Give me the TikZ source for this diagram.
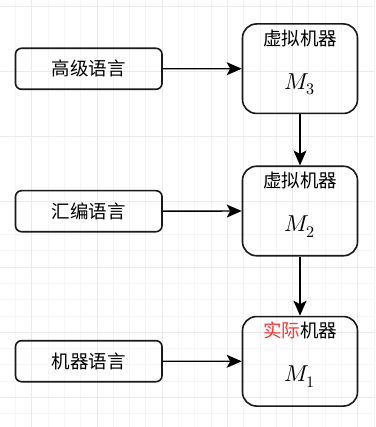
\documentclass[tikz,border=0pt]{standalone}
\usepackage{fontspec}
\usepackage{unicode-math}
\setmathfont{Latin Modern Math}
\newfontfamily\cjk{Noto Sans CJK SC}
\usetikzlibrary{arrows.meta}
\definecolor{gridminor}{HTML}{F5F5F5}
\definecolor{gridmajor}{HTML}{EAEAEA}
\definecolor{labelred}{HTML}{FF3333}
\begin{document}
\begin{tikzpicture}[x=1pt,y=-1pt,
  langbox/.style={draw=black!90, line width=1.6pt, rounded corners=6pt,
    minimum width=146.5pt, minimum height=41pt, inner sep=0pt,
    font=\cjk\fontsize{18.5}{20}\selectfont},
  machbox/.style={draw=black!90, line width=1.6pt, rounded corners=14pt,
    minimum width=115pt, minimum height=89.5pt, inner sep=0pt},
  title/.style={font=\cjk\fontsize{18.5}{20}\selectfont, inner sep=0pt},
  mlabel/.style={font=\fontsize{23}{26}\selectfont, inner sep=0pt, anchor=base},
  flow/.style={line width=1.4pt, -{Stealth[length=15pt,width=13pt,inset=3.5pt]}}
]
% page and background grid
\useasboundingbox (0,0) rectangle (375,427);
\fill[white] (0,0) rectangle (375,427);
\foreach \k in {-2,...,21} {
  \draw[gridminor, line width=0.7pt] ({31.7+16.3*\k},0) -- ({31.7+16.3*\k},427);
  \draw[gridminor, line width=0.7pt] (0,{267+16.3*\k}) -- (375,{267+16.3*\k});
}
\foreach \k in {0,...,5} {
  \draw[gridmajor, line width=0.8pt] ({31.7+65.2*\k},0) -- ({31.7+65.2*\k},427);
}
\foreach \k in {-4,...,2} {
  \draw[gridmajor, line width=0.8pt] (0,{267+65.2*\k}) -- (375,{267+65.2*\k});
}

% language levels
\node[langbox] (high) at (88.75,68.8) {高级语言};
\node[langbox] (asm)  at (88.75,211.2) {汇编语言};
\node[langbox] (mach) at (88.75,361.2) {机器语言};

% machine levels
\node[machbox] (m3) at (300,68.7) {};
\node[machbox] (m2) at (300,211) {};
\node[machbox] (m1) at (300,361.3) {};

\node[title] (m3t) at ([yshift=-15pt]m3.north) {虚拟机器};
\node[title] (m2t) at ([yshift=-15pt]m2.north) {虚拟机器};
\node[title] (m1t) at ([yshift=-15pt]m1.north) {{\color{labelred}实际}机器};

\node[mlabel] (m3m) at ([yshift=-66pt]m3.north) {$M_3$};
\node[mlabel] (m2m) at ([yshift=-66pt]m2.north) {$M_2$};
\node[mlabel] (m1m) at ([yshift=-66pt]m1.north) {$M_1$};

% connectors
\draw[flow] (high.east) -- (m3.west);
\draw[flow] (asm.east) -- (m2.west);
\draw[flow] (mach.east) -- (m1.west);
\draw[flow] (m3.south) -- (m2.north);
\draw[flow] (m2.south) -- (m1.north);
\end{tikzpicture}
\end{document}
